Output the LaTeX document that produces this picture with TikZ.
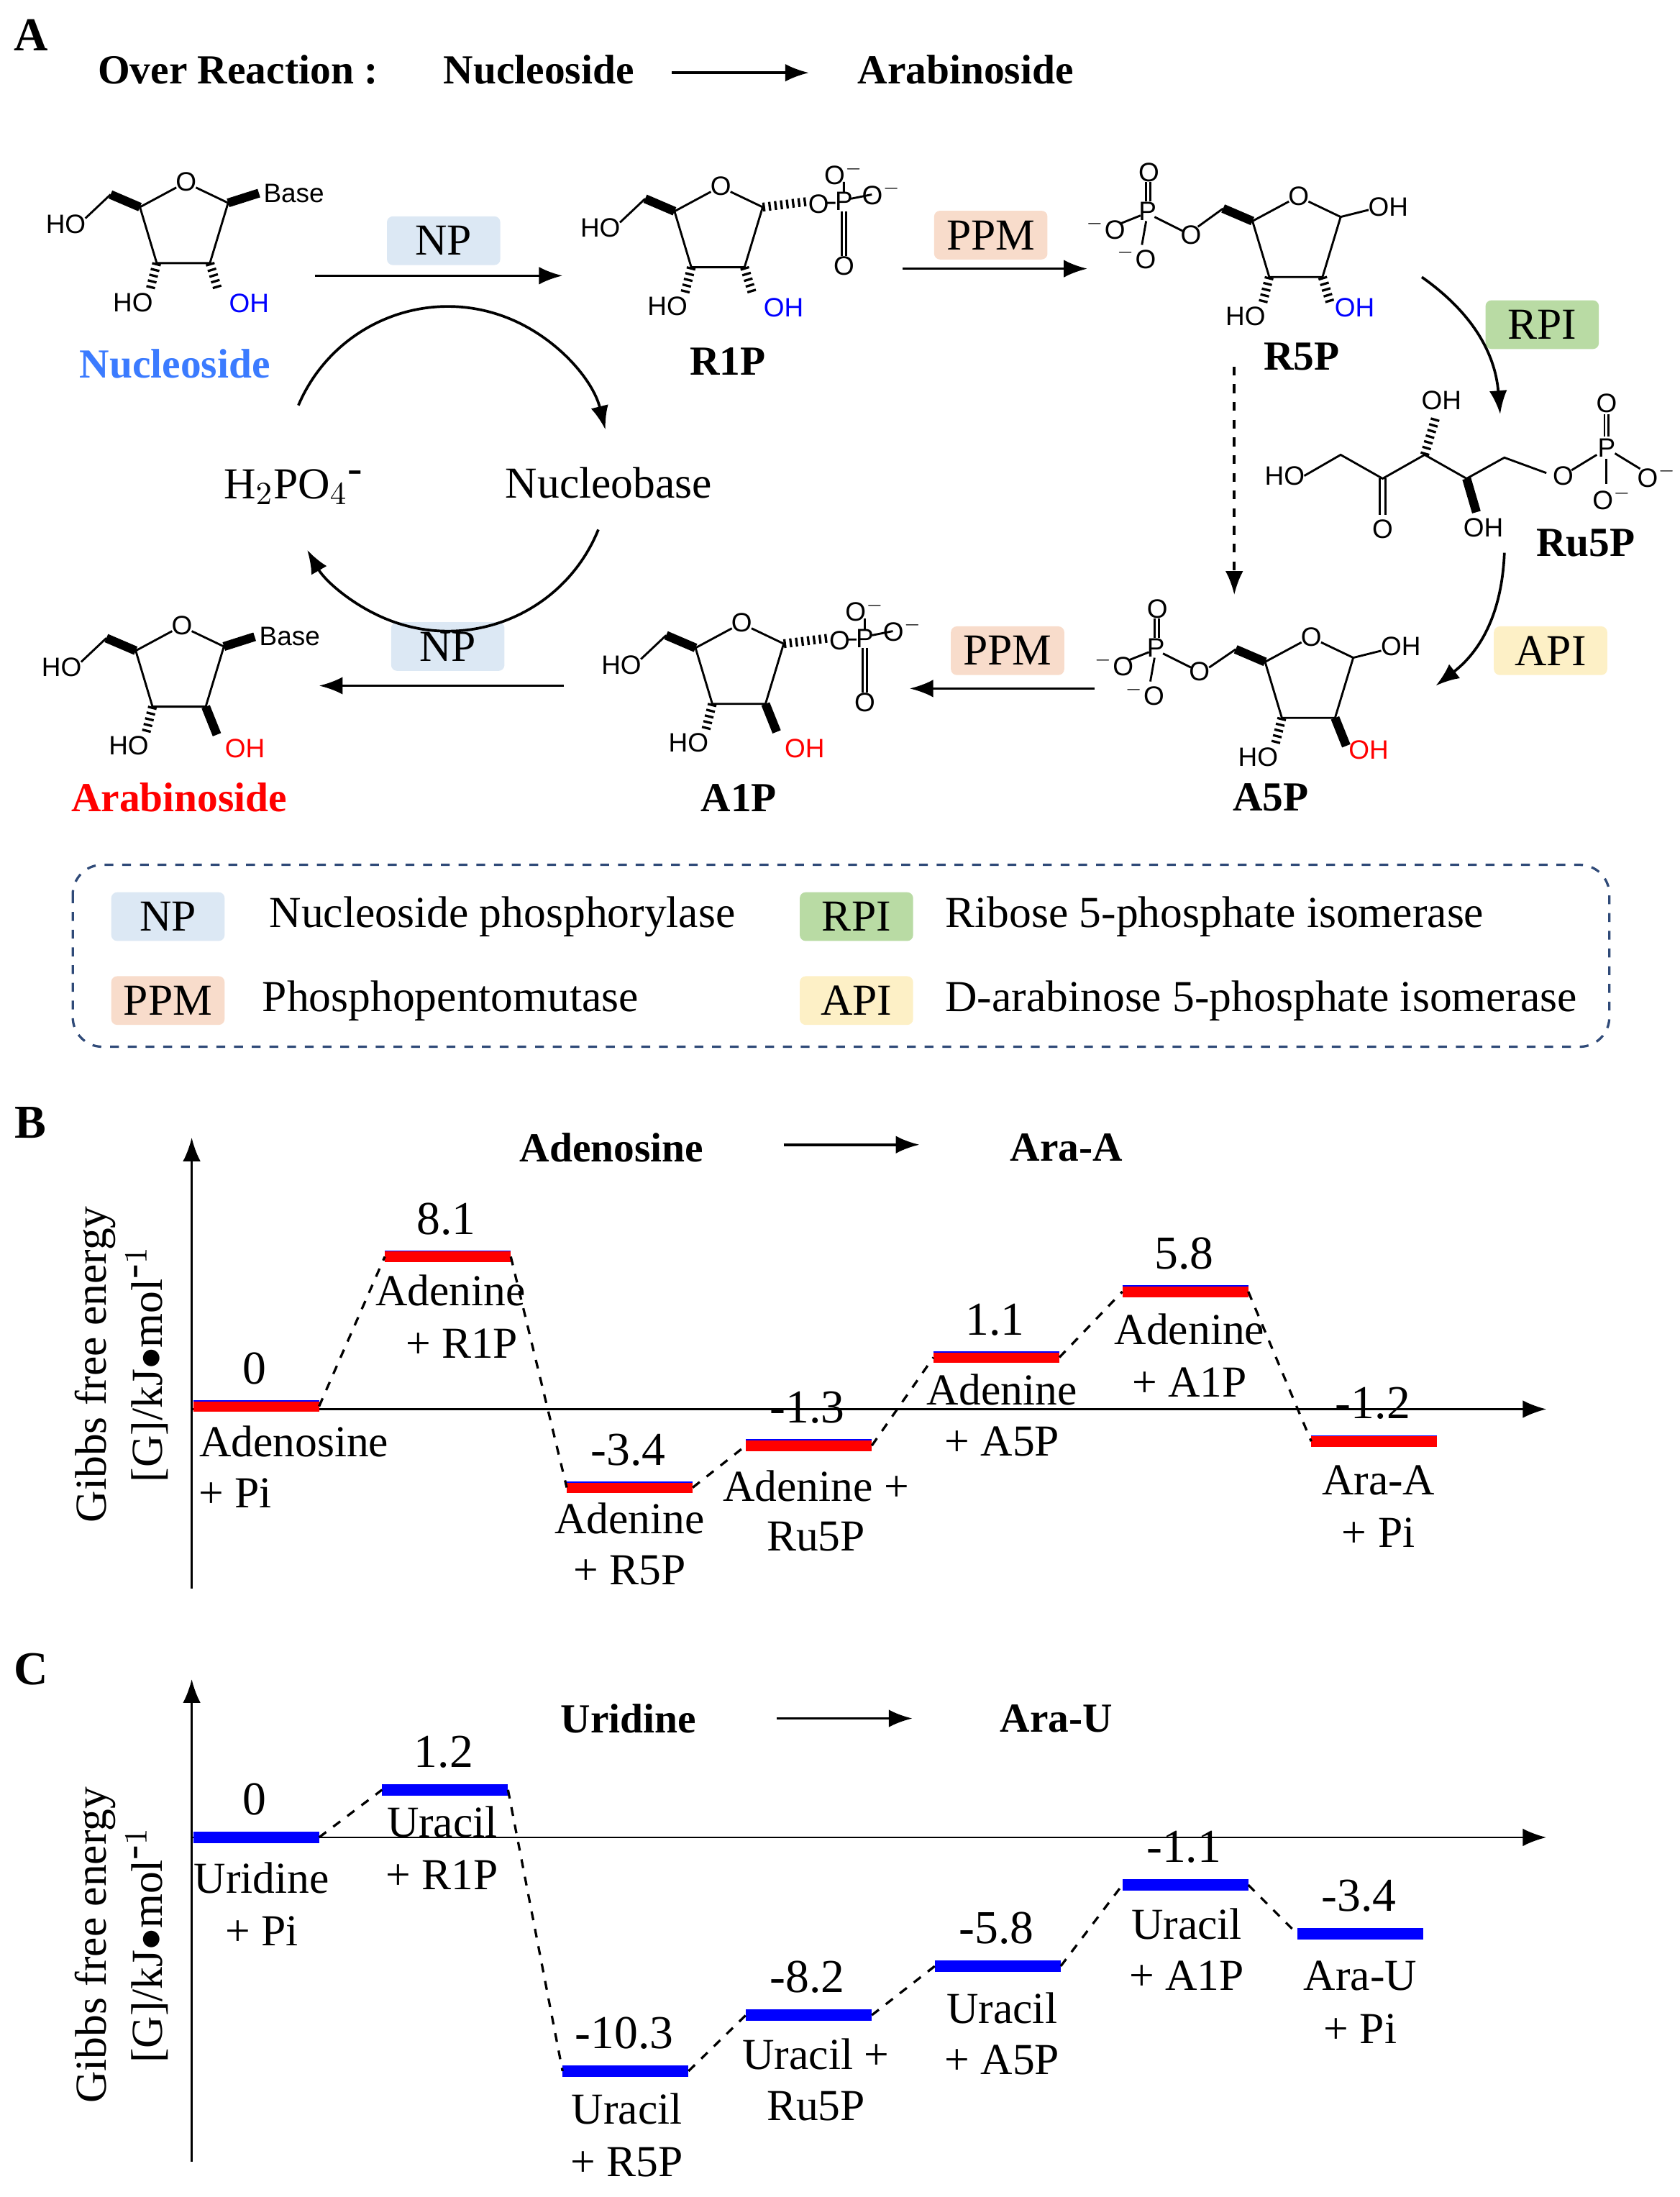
\documentclass[tikz,border=0pt]{standalone}
\usepackage{fontspec}
\setmainfont{Liberation Serif}
\newfontfamily\chemf{Liberation Sans}
\usetikzlibrary{arrows.meta}
\definecolor{npc}{HTML}{DCE8F4}
\definecolor{ppmc}{HTML}{F8DCCB}
\definecolor{rpic}{HTML}{B9DBA4}
\definecolor{apic}{HTML}{FDF0C6}
\definecolor{legc}{HTML}{2F4A78}
\definecolor{nucblue}{HTML}{3B7BFF}
\begin{document}
\begin{tikzpicture}[x=1cm/60,y=-1cm/60,
  chem/.style={font=\chemf\fontsize{9}{10}\selectfont,inner sep=0.5pt},
  big/.style={font=\fontsize{15}{17}\selectfont,inner sep=1pt},
  bold/.style={font=\bfseries\fontsize{14}{16}\selectfont,inner sep=1pt},
  num/.style={font=\fontsize{16}{18}\selectfont,inner sep=1pt},
  enz/.style={font=\fontsize{15}{17}\selectfont,minimum width=1.35cm,minimum height=0.58cm,inner sep=0pt,rounded corners=2pt},
  arr/.style={-{Latex[length=8pt,width=6pt]},line width=0.9pt},
  hash/.style={line width=3pt,dash pattern=on 0.8pt off 1.2pt},
  wedge/.style={line width=3pt},
  bar/.style={draw=blue,line width=0.4pt},
  conn/.style={dashed,line width=0.8pt},
  ribo/.pic={
    \node[chem] (-O) at (0,0) {O};
    \draw[line width=0.7pt] (7,4) -- (30,15) -- (17,58) -- (-21,58) -- (-33,18) -- (-7,4);
    \draw[wedge] (-33,18) -- (-54,9);
    \draw[hash] (-21,58) -- (-26,78);
    \node[chem] at (-38,86) {HO};
  },
  c5ho/.pic={
    \draw[line width=0.7pt] (-54,9) -- (-72,26);
    \node[chem] at (-86,30) {HO};
  },
  c2hash/.pic={\draw[hash] (17,58) -- (23,78);},
  c2bold/.pic={\draw[wedge] (17,58) -- (25,78);},
  phosR/.pic={ % P at origin, O links to left
    \node[chem] at (0,0) {P};
    \node[chem] at (-18,2) {O};
    \node[chem] at (0,-20) {O$^-$};
    \node[chem] at (27,-6) {O$^-$};
    \node[chem] at (0,46) {O};
    \draw[line width=0.7pt] (-13,1) -- (-6,1) (0,-6) -- (0,-14) (5,-2) -- (20,-5);
    \draw[line width=0.7pt] (-1.5,7) -- (-1.5,39) (1.5,7) -- (1.5,39);
  },
  phosL/.pic={ % P at origin, O links to right
    \node[chem] at (0,0) {P};
    \node[chem] at (31,17) {O};
    \node[chem] at (1,-28) {O};
    \node[chem] at (-30,12) {$^-$O};
    \node[chem] at (-8,33) {$^-$O};
    \draw[line width=0.7pt] (5,4) -- (25,14) (-5,3) -- (-20,9) (-1,7) -- (-4,24);
    \draw[line width=0.7pt] (-1,-7) -- (-1,-21) (2,-7) -- (2,-21);
  },
]
\path[use as bounding box] (0,0) rectangle (1200,1570);

%% ---------- Panel A ----------
\node[font=\bfseries\fontsize{16}{18}\selectfont] at (22,25) {A};
\node[bold] (ovr) at (170,50) {Over Reaction :};
\node[bold] (ovn) at (385,50) {Nucleoside};
\node[bold] (ova) at (690,50) {Arabinoside};
\coordinate (o1) at (480,52); \coordinate (o2) at (578,52);
\draw[arr] (o1) -- (o2);

% Nucleoside
\pic at (133,130) {ribo}; \pic at (133,130) {c2hash}; \pic at (133,130) {c5ho};
\draw[wedge] (163,145) -- (185,138); \node[chem] at (210,138) {Base};
\node[chem,text=blue] at (178,217) {OH};
\node[bold,text=nucblue] at (125,260) {Nucleoside};
% R1P
\pic at (515,133) {ribo}; \pic at (515,133) {c2hash}; \pic at (515,133) {c5ho};
\draw[hash] (545,148) -- (577,144);
\pic at (603,144) {phosR};
\node[chem,text=blue] at (560,220) {OH};
\node[bold] at (520,258) {R1P};
% R5P
\pic at (928,140) {ribo}; \pic at (928,140) {c2hash};
\draw[line width=0.7pt] (958,155) -- (978,150); \node[chem] at (992,148) {OH};
\node[chem,text=blue] at (968,220) {OH};
\draw[line width=0.7pt] (874,149) -- (856,162);
\pic at (820,151) {phosL};
\node[bold] at (930,255) {R5P};
% Ru5P
\node[chem] at (918,340) {HO};
\draw[line width=0.7pt] (932,340) -- (958,325) -- (988,342) -- (1018,325) -- (1048,342) -- (1075,327) -- (1105,338);
\draw[line width=0.7pt] (986,342) -- (986,368) (990,342) -- (990,368);
\node[chem] at (988,378) {O};
\draw[hash] (1018,325) -- (1026,298); \node[chem] at (1030,286) {OH};
\draw[wedge] (1048,342) -- (1055,366); \node[chem] at (1060,377) {OH};
\node[chem] at (1117,340) {O};
\draw[line width=0.7pt] (1123,336) -- (1141,325);
\node[chem] at (1148,320) {P};
\draw[line width=0.7pt] (1146.5,312) -- (1146.5,296) (1149.5,312) -- (1149.5,296);
\node[chem] at (1148,288) {O};
\draw[line width=0.7pt] (1154,324) -- (1172,335); \node[chem] at (1184,340) {O$^-$};
\draw[line width=0.7pt] (1148,328) -- (1148,346); \node[chem] at (1152,356) {O$^-$};
\node[bold] at (1133,388) {Ru5P};
% A5P
\pic at (937,455) {ribo}; \pic at (937,455) {c2bold};
\draw[line width=0.7pt] (967,470) -- (987,465); \node[chem] at (1001,462) {OH};
\node[chem,text=red] at (978,536) {OH};
\draw[line width=0.7pt] (883,464) -- (864,477);
\pic at (826,463) {phosL};
\node[bold] at (908,570) {A5P};
% A1P
\pic at (530,445) {ribo}; \pic at (530,445) {c2bold}; \pic at (530,445) {c5ho};
\draw[hash] (560,460) -- (592,456);
\pic at (618,456) {phosR};
\node[chem,text=red] at (575,535) {OH};
\node[bold] at (528,570) {A1P};
% Arabinoside
\pic at (130,447) {ribo}; \pic at (130,447) {c2bold}; \pic at (130,447) {c5ho};
\draw[wedge] (160,462) -- (182,455); \node[chem] at (207,455) {Base};
\node[chem,text=red] at (175,535) {OH};
\node[bold,text=red] at (128,570) {Arabinoside};

% enzymes & arrows
\node[enz,fill=npc] (np1) at (317,172) {NP};
\coordinate (a1s) at (225,197); \coordinate (a1e) at (402,197);
\draw[arr] (a1s) -- (a1e);
\node[enz,fill=ppmc] (ppm1) at (708,168) {PPM};
\coordinate (a2s) at (645,192); \coordinate (a2e) at (777,192);
\draw[arr] (a2s) -- (a2e);
\node[enz,fill=rpic] (rpi) at (1102,232) {RPI};
\coordinate (a3s) at (1016,198); \coordinate (a3e) at (1072,296);
\draw[arr] (a3s) to[bend left=25] (a3e);
\node[enz,fill=apic] (api) at (1108,465) {API};
\coordinate (a4s) at (1075,395); \coordinate (a4e) at (1026,490);
\draw[arr] (a4s) to[bend left=25] (a4e);
\coordinate (d1s) at (882,262); \coordinate (d1e) at (882,425);
\draw[arr,dashed] (d1s) -- (d1e);
\node[enz,fill=ppmc] (ppm2) at (720,465) {PPM};
\coordinate (a5s) at (782,492); \coordinate (a5e) at (650,492);
\draw[arr] (a5s) -- (a5e);
\node[enz,fill=npc] (np2) at (320,462) {NP};
\coordinate (a6s) at (403,490); \coordinate (a6e) at (228,490);
\draw[arr] (a6s) -- (a6e);

\node[big] (hpo) at (210,348) {H$_2$PO$_4{}^{\mbox{-}}$};
\node[big] (nb) at (435,345) {Nucleobase};
\draw[arr] (320,335) ++(-157:116) arc[start angle=-157,end angle=-14,radius=116];
\draw[arr] (320,335) ++(22:116) arc[start angle=22,end angle=150,radius=116];

% legend
\draw[legc,dashed,line width=0.8pt,rounded corners=10pt] (52,618) rectangle (1150,748);
\node[enz,fill=npc] (l1) at (120,655) {NP};
\node[big,anchor=west] at (190,655) {Nucleoside phosphorylase};
\node[enz,fill=ppmc] (l2) at (120,715) {PPM};
\node[big,anchor=west] at (185,715) {Phosphopentomutase};
\node[enz,fill=rpic] (l3) at (612,655) {RPI};
\node[big,anchor=west] at (673,655) {Ribose 5-phosphate isomerase};
\node[enz,fill=apic] (l4) at (612,715) {API};
\node[big,anchor=west] at (673,715) {D-arabinose 5-phosphate isomerase};

%% ---------- Panel B ----------
\node[font=\bfseries\fontsize{16}{18}\selectfont] at (22,802) {B};
\coordinate (bo) at (137,1135); \coordinate (bt) at (137,813);
\coordinate (bl) at (137,1007); \coordinate (br) at (1105,1007);
\draw[arr,line width=0.7pt] (bo) -- (bt);
\draw[arr,line width=0.7pt] (bl) -- (br);
\node[big,rotate=90] at (68,975) {Gibbs free energy};
\node[big,rotate=90] at (105,975) {[G]/kJ$\bullet$mol$^{\mbox{-}1}$};
\node[bold] (bA) at (437,820) {Adenosine};
\node[bold] (bB) at (762,820) {Ara-A};
\coordinate (ba1) at (560,818); \coordinate (ba2) at (657,818);
\draw[arr] (ba1) -- (ba2);

\foreach \n/\xa/\yy/\v in {b1/138/1005/0,b2/275/898/8.1,b3/405/1063/-3.4,b4/533/1033/-1.3,b5/667/970/1.1,b6/802/923/5.8,b7/937/1030/-1.2}{
  \fill[red] (\xa,\yy-4) rectangle (\xa+90,\yy+4);
  \draw[bar] (\xa,\yy-4) -- (\xa+90,\yy-4);
  \coordinate (\n l) at (\xa,\yy); \coordinate (\n r) at (\xa+90,\yy);
  \node[num] at (\xa+44,\yy-27) {\v};
}
\foreach \a/\b in {b1/b2,b2/b3,b3/b4,b4/b5,b5/b6,b6/b7}{\draw[conn] (\a r) -- (\b l);}
\node[big] at (210,1030) {Adenosine}; \node[big] at (168,1067) {+ Pi};
\node[big] at (322,922) {Adenine}; \node[big] at (330,960) {+ R1P};
\node[big] at (450,1085) {Adenine}; \node[big] at (450,1122) {+ R5P};
\node[big] at (583,1062) {Adenine +}; \node[big] at (583,1098) {Ru5P};
\node[big] at (716,993) {Adenine}; \node[big] at (716,1030) {+ A5P};
\node[big] at (850,950) {Adenine}; \node[big] at (850,988) {+ A1P};
\node[big] at (985,1058) {Ara-A}; \node[big] at (985,1095) {+ Pi};

%% ---------- Panel C ----------
\node[font=\bfseries\fontsize{16}{18}\selectfont] at (22,1193) {C};
\coordinate (co) at (137,1545); \coordinate (ct) at (137,1200);
\coordinate (cl) at (137,1313); \coordinate (cr) at (1105,1313);
\draw[arr,line width=0.7pt] (co) -- (ct);
\draw[arr,line width=0.7pt] (cl) -- (cr);
\node[big,rotate=90] at (68,1390) {Gibbs free energy};
\node[big,rotate=90] at (105,1390) {[G]/kJ$\bullet$mol$^{\mbox{-}1}$};
\node[bold] (cA) at (449,1228) {Uridine};
\node[bold] (cB) at (755,1228) {Ara-U};
\coordinate (ca1) at (555,1228); \coordinate (ca2) at (652,1228);
\draw[arr] (ca1) -- (ca2);

\foreach \n/\xa/\yy/\v in {c1/138/1313/0,c2/273/1279/1.2,c3/402/1480/-10.3,c4/533/1440/-8.2,c5/668/1405/-5.8,c6/802/1347/-1.1,c7/927/1382/-3.4}{
  \fill[blue] (\xa,\yy-4) rectangle (\xa+90,\yy+4);
  \coordinate (\n l) at (\xa,\yy); \coordinate (\n r) at (\xa+90,\yy);
  \node[num] at (\xa+44,\yy-27) {\v};
}
\foreach \a/\b in {c1/c2,c2/c3,c3/c4,c4/c5,c5/c6,c6/c7}{\draw[conn] (\a r) -- (\b l);}
\node[big] at (187,1342) {Uridine}; \node[big] at (187,1380) {+ Pi};
\node[big] at (316,1302) {Uracil}; \node[big] at (316,1340) {+ R1P};
\node[big] at (448,1507) {Uracil}; \node[big] at (448,1545) {+ R5P};
\node[big] at (583,1468) {Uracil +}; \node[big] at (583,1505) {Ru5P};
\node[big] at (716,1435) {Uracil}; \node[big] at (716,1472) {+ A5P};
\node[big] at (848,1375) {Uracil}; \node[big] at (848,1412) {+ A1P};
\node[big] at (972,1412) {Ara-U}; \node[big] at (972,1450) {+ Pi};
\end{tikzpicture}
\end{document}
